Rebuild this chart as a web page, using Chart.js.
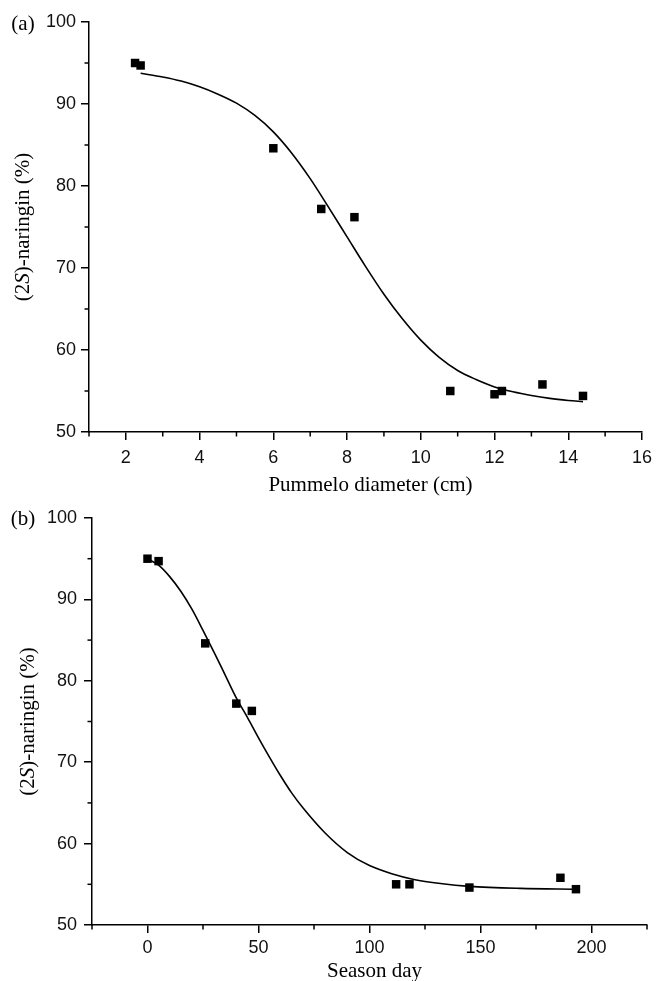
<!DOCTYPE html>
<html><head><meta charset="utf-8">
<script src="https://cdn.jsdelivr.net/npm/chart.js@4.4.1/dist/chart.umd.min.js"></script>
<style>
html,body{margin:0;padding:0;background:#fff;}
#wrap{position:relative;width:659px;height:981px;background:#fff;}
.pane{position:absolute;left:0;width:659px;}
</style></head><body>
<div id="wrap">
<div class="pane" style="top:0;height:502px"><canvas id="ca"></canvas></div>
<div class="pane" style="top:490px;height:491px"><canvas id="cb"></canvas></div>
</div>
<script>
// ---- Panel (a): (2S)-naringin vs pummelo diameter ----
const diameterCm = [2.25, 2.4, 6.0, 7.3, 8.2, 10.8, 12.0, 12.2, 13.3, 14.4];
const naringinA  = [95.0, 94.7, 84.6, 77.2, 76.2, 55.0, 54.6, 55.0, 55.8, 54.4];
const fitDiameter  = [2.4, 3.0, 3.5, 4.0, 4.5, 5.0, 5.5, 6.0, 6.5, 7.0, 7.5, 8.0, 8.5, 9.0, 9.5, 10.0, 10.5, 11.0, 11.5, 12.0, 12.5, 13.0, 13.5, 14.0, 14.4];
const fitNaringinA = [93.75, 93.3, 92.8, 92.1, 91.2, 90.1, 88.6, 86.6, 84.0, 80.9, 77.4, 73.8, 70.2, 66.8, 63.8, 61.2, 59.1, 57.5, 56.4, 55.5, 54.9, 54.45, 54.1, 53.85, 53.7];
const xMajorA = [2, 4, 6, 8, 10, 12, 14, 16];
const xMinorA = [1, 3, 5, 7, 9, 11, 13, 15];

// ---- Panel (b): (2S)-naringin vs season day ----
const seasonDay  = [0, 5, 26, 40, 47, 112, 118, 145, 186, 193];
const naringinB  = [95.0, 94.7, 84.6, 77.2, 76.3, 55.0, 55.0, 54.6, 55.8, 54.4];
const fitDay       = [0, 5, 10, 15, 20, 25, 30, 35, 40, 45, 50, 55, 60, 65, 70, 80, 90, 100, 110, 120, 132, 145, 168, 193];
const fitNaringinB = [95.0, 94.2, 92.8, 91.0, 88.8, 86.2, 83.5, 80.7, 77.9, 75.5, 73.0, 70.6, 68.3, 66.2, 64.4, 61.3, 58.9, 57.3, 56.3, 55.6, 55.1, 54.75, 54.5, 54.4];
const xMajorB = [0, 50, 100, 150, 200];
const xMinorB = [-25, 25, 75, 125, 175, 225];

// ---- shared y ticks ----
const yMajor = [50, 60, 70, 80, 90, 100];
const yMinor = [55, 65, 75, 85, 95];

const SANS = '"Liberation Sans", Arial, sans-serif';
const SERIF = '"Liberation Serif", "Times New Roman", serif';

function toPts(xs, ys){ return xs.map((x,i)=>({x:x, y:ys[i]})); }

function decor(opts){
  return {
    id:'decor',
    afterDraw(chart){
      const ctx = chart.ctx, xs = chart.scales.x, ys = chart.scales.y, ca = chart.chartArea;
      ctx.save();
      ctx.strokeStyle = '#000'; ctx.lineWidth = 1.5;
      opts.xMinor.forEach(v=>{
        const px = xs.getPixelForValue(v);
        ctx.beginPath(); ctx.moveTo(px, ca.bottom); ctx.lineTo(px, ca.bottom + 4.5); ctx.stroke();
      });
      opts.yMinor.forEach(v=>{
        const py = ys.getPixelForValue(v);
        ctx.beginPath(); ctx.moveTo(ca.left, py); ctx.lineTo(ca.left - 4.5, py); ctx.stroke();
      });
      ctx.fillStyle = '#000';
      ctx.font = '21px ' + SERIF; ctx.textAlign = 'center'; ctx.textBaseline = 'middle';
      ctx.fillText(opts.label, 23, opts.labelY);
      ctx.textBaseline = 'alphabetic';
      ctx.fillText(opts.xTitle, (ca.left + ca.right)/2 + 5, opts.xTitleBase);
      const parts = [{t:'(2', s:'normal'}, {t:'S', s:'italic'}, {t:')-naringin (%)', s:'normal'}];
      let total = 0;
      parts.forEach(p=>{ ctx.font = p.s + ' 21px ' + SERIF; p.w = ctx.measureText(p.t).width; total += p.w; });
      ctx.translate(opts.yTitleX, (ca.top + ca.bottom)/2);
      ctx.rotate(-Math.PI/2);
      ctx.textAlign = 'left'; ctx.textBaseline = 'middle';
      let x = -total/2;
      parts.forEach(p=>{ ctx.font = p.s + ' 21px ' + SERIF; ctx.fillText(p.t, x, 0); x += p.w; });
      ctx.restore();
    }
  };
}

function makeChart(id, cfg){
  return new Chart(document.getElementById(id), {
    type: 'scatter',
    data: {
      datasets: [
        { data: toPts(cfg.fitX, cfg.fitY), showLine: true, pointRadius: 0, borderColor: '#000',
          borderWidth: 1.6, cubicInterpolationMode: 'monotone', fill: false, order: 2 },
        { data: toPts(cfg.px, cfg.py), pointStyle: 'rect', pointRadius: 6, pointBorderWidth: 0,
          backgroundColor: '#000', borderColor: '#000', showLine: false, order: 1 }
      ]
    },
    options: {
      responsive: true, maintainAspectRatio: false, animation: false,
      layout: { padding: { left: 0, top: cfg.padTop, right: cfg.padRight, bottom: 0 } },
      plugins: { legend: { display: false }, tooltip: { enabled: false } },
      scales: {
        x: {
          type: 'linear', min: cfg.xMin, max: cfg.xMax,
          afterBuildTicks: s => { s.ticks = cfg.xMajor.map(v=>({value:v})); },
          afterFit: s => { s.height = cfg.xAxisH; },
          ticks: { color: '#111', font: { family: SANS, size: 18 }, padding: cfg.xPad, maxRotation: 0, autoSkip: false },
          grid: { drawOnChartArea: false, color: '#000', lineWidth: 1.5, tickLength: 8 },
          border: { display: true, color: '#000', width: 1.5 }
        },
        y: {
          type: 'linear', min: 50, max: 100,
          afterBuildTicks: s => { s.ticks = yMajor.map(v=>({value:v})); },
          afterFit: s => { s.width = cfg.yAxisW; },
          ticks: { color: '#111', font: { family: SANS, size: 18 }, padding: cfg.yPad, autoSkip: false },
          grid: { drawOnChartArea: false, color: '#000', lineWidth: 1.5, tickLength: 8 },
          border: { display: true, color: '#000', width: 1.5 }
        }
      }
    },
    plugins: [decor(cfg)]
  });
}

makeChart('ca', {
  px: diameterCm, py: naringinA, fitX: fitDiameter, fitY: fitNaringinA,
  xMin: 1, xMax: 16, xMajor: xMajorA, xMinor: xMinorA, yMinor: yMinor,
  padTop: 22, padRight: 16, xAxisH: 70, yAxisW: 89, xPad: 7, yPad: 5,
  label: '(a)', labelY: 24, xTitle: 'Pummelo diameter (cm)', xTitleBase: 491, yTitleX: 23
});
makeChart('cb', {
  px: seasonDay, py: naringinB, fitX: fitDay, fitY: fitNaringinB,
  xMin: -25, xMax: 225, xMajor: xMajorB, xMinor: xMinorB, yMinor: yMinor,
  padTop: 28, padRight: 12, xAxisH: 56, yAxisW: 92, xPad: 4, yPad: 7,
  label: '(b)', labelY: 29, xTitle: 'Season day', xTitleBase: 487, yTitleX: 28
});
</script>
</body></html>
